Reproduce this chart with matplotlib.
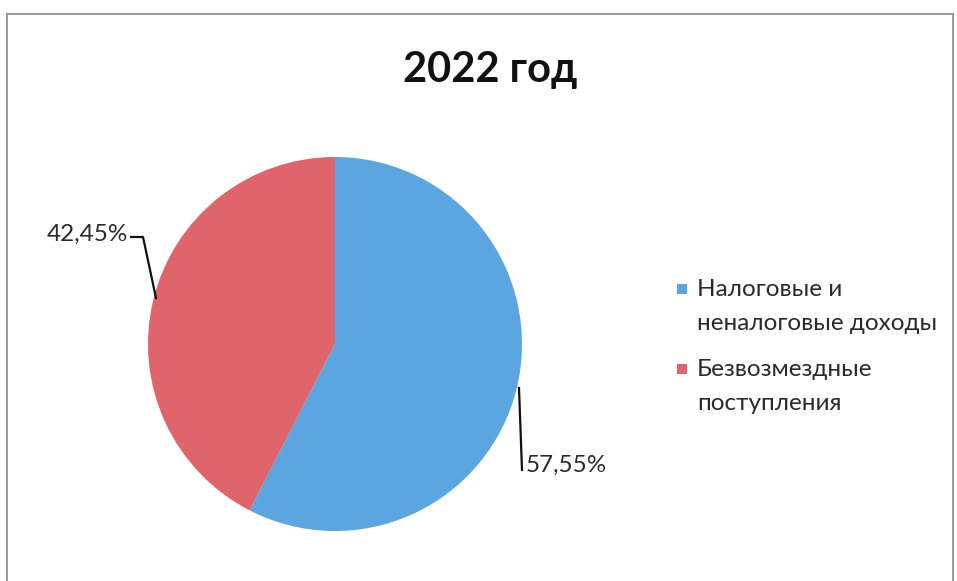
import matplotlib
matplotlib.use("Agg")
import matplotlib.pyplot as plt
from matplotlib.lines import Line2D
from matplotlib.patches import Rectangle

categories = ["Налоговые и\nненалоговые доходы", "Безвозмездные\nпоступления"]
values = [57.55, 42.45]
labels = ["57,55%", "42,45%"]
colors = ["#5ba6e0", "#e0646c"]
title = "2022 год"

W, H = 957, 581
fig = plt.figure(figsize=(W / 100, H / 100), dpi=100)

def fx(x):
    return x / W

def fy(y):
    return 1 - y / H

# frame
fig.add_artist(Line2D([fx(7), fx(7)], [fy(14), fy(581)], color="#8a8a8a", lw=1.2))
fig.add_artist(Line2D([fx(7), fx(953)], [fy(14), fy(14)], color="#8a8a8a", lw=1.2))
fig.add_artist(Line2D([fx(953), fx(953)], [fy(14), fy(581)], color="#8a8a8a", lw=1.2))

# pie
cx, cy, r = 335, 344, 187
ax = fig.add_axes([fx(cx - r), fy(cy + r), 2 * r / W, 2 * r / H])
ax.pie(values, colors=colors, startangle=90, counterclock=False,
       wedgeprops=dict(linewidth=0))
ax.set_aspect("equal")
ax.set_xlim(-1, 1)
ax.set_ylim(-1, 1)
ax.axis("off")

font = ["Lato", "DejaVu Sans"]
fig.text(fx(490), fy(70), title, ha="center", va="center", fontsize=30,
         fontweight="bold", family=font, color="#111111")

# data labels with leader lines
fig.text(fx(128), fy(234), labels[1], ha="right", va="center", fontsize=17.5,
         family=font, color="#2a2a2a")
fig.add_artist(Line2D([fx(131), fx(143), fx(156)], [fy(237), fy(237), fy(298)],
                      color="#111111", lw=1.6))
fig.text(fx(526), fy(465), labels[0], ha="left", va="center", fontsize=17.5,
         family=font, color="#2a2a2a")
fig.add_artist(Line2D([fx(519), fx(522)], [fy(388), fy(470)],
                      color="#111111", lw=1.6))

# legend
ys = [289, 369]
for cat, col, y in zip(categories, colors, ys):
    fig.add_artist(Rectangle((fx(677), fy(y + 5)), 10 / W, 10 / H,
                             facecolor=col, edgecolor="none",
                             transform=fig.transFigure))
    line1, line2 = cat.split("\n")
    fig.text(fx(697), fy(y), line1, ha="left", va="center", fontsize=17.5,
             family=font, color="#2a2a2a")
    fig.text(fx(697), fy(y + 34), line2, ha="left", va="center", fontsize=17.5,
             family=font, color="#2a2a2a")

fig.savefig("out.png", dpi=100)
